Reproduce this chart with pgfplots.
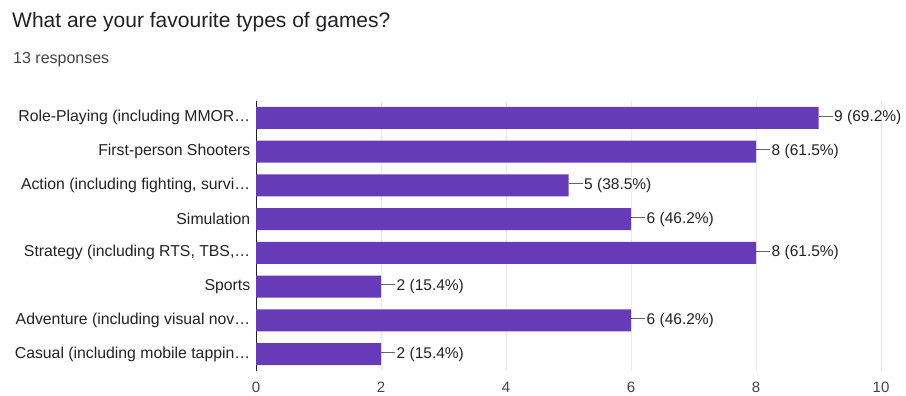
\documentclass[border=0pt]{standalone}
\usepackage{fontspec}
\setmainfont{Liberation Sans}
\usepackage{pgfplots}
\pgfplotsset{compat=1.18}
\definecolor{barc}{HTML}{673AB7}
\definecolor{titlec}{HTML}{202124}
\definecolor{labc}{HTML}{222222}
\definecolor{tickc}{HTML}{444444}
\definecolor{gridc}{HTML}{EBEBEB}
\definecolor{linec}{HTML}{666666}
\begin{document}
\begin{tikzpicture}
\path[use as bounding box] (0,0) rectangle (906bp,396bp);
\node[anchor=base west, inner sep=0pt, text=titlec, font=\fontsize{21bp}{24bp}\selectfont] at (12bp,368bp) {What are your favourite types of games?};
\node[anchor=base west, inner sep=0pt, text=tickc, font=\fontsize{16bp}{18bp}\selectfont] at (13bp,332bp) {13 responses};
\begin{axis}[
  at={(256bp,25bp)}, anchor=south west,
  scale only axis, width=625bp, height=270bp,
  xbar, bar width=22bp,
  xmin=0, xmax=10, ymin=-0.5, ymax=7.5, y dir=reverse,
  xtick={0,2,...,10}, ytick={0,...,7},
  yticklabels={{Role-Playing (including MMOR…},{First-person Shooters},{Action (including fighting, survi…},{Simulation},{Strategy (including RTS, TBS,…},{Sports},{Adventure (including visual nov…},{Casual (including mobile tappin…}},
  axis line style={draw=none}, tick style={draw=none},
  xmajorgrids, major grid style={draw=gridc, line width=0.8bp},
  extra x ticks={0}, extra x tick labels={},
  extra x tick style={major grid style={draw=labc, line width=1bp}},
  /pgf/number format/assume math mode=true,
  xticklabel style={font=\fontsize{15bp}{17bp}\selectfont, text=tickc, yshift=-8bp},
  yticklabel style={font=\fontsize{15.8bp}{18bp}\selectfont, text=labc, xshift=2bp},
  point meta=explicit symbolic,
  nodes near coords={\textcolor{linec}{\rule[0.36em]{14bp}{0.8bp}}\kern1.5bp\pgfplotspointmeta},
  every node near coord/.append style={anchor=west, inner sep=0pt, font=\fontsize{15.5bp}{17bp}\selectfont, text=labc},
  clip=false,
]
\addplot[fill=barc, draw=none] coordinates {
(9,0) [9 (69.2\%)]
(8,1) [8 (61.5\%)]
(5,2) [5 (38.5\%)]
(6,3) [6 (46.2\%)]
(8,4) [8 (61.5\%)]
(2,5) [2 (15.4\%)]
(6,6) [6 (46.2\%)]
(2,7) [2 (15.4\%)]
};
\end{axis}
\end{tikzpicture}
\end{document}
